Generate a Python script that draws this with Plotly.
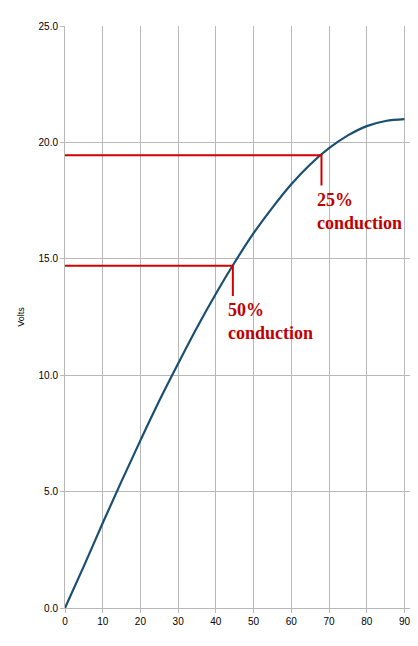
import plotly.graph_objects as go

# phase angle (degrees) and voltage
angle = [0, 5, 10, 15, 20, 25, 30, 35, 40, 45, 50, 55, 60, 65, 70, 75, 80, 85, 90]
volts = [0.0, 1.8, 3.65, 5.45, 7.2, 8.9, 10.5, 12.05, 13.5, 14.85, 16.1, 17.2,
         18.2, 19.05, 19.75, 20.3, 20.7, 20.92, 21.0]

# conduction markers: (angle, volts, label)
marks = [(68, 19.45, '<b>25%<br>conduction</b>'), (44.5, 14.7, '<b>50%<br>conduction</b>')]

fig = go.Figure()
fig.add_trace(go.Scatter(x=angle, y=volts, mode='lines', line_shape='spline',
                         line=dict(color='#1b4f72', width=2.2), showlegend=False))

for x, y, label in marks:
    fig.add_trace(go.Scatter(x=[0, x, x], y=[y, y, y - 1.3], mode='lines',
                             line=dict(color='#d00000', width=2), showlegend=False))
    fig.add_annotation(x=x - 1.8, y=y - 1.4, text=label, showarrow=False,
                       xanchor='left', yanchor='top', align='left',
                       font=dict(family='Liberation Serif', size=18, color='#c00000'))

fig.update_layout(
    width=418, height=646, plot_bgcolor='white', paper_bgcolor='white',
    margin=dict(l=49, r=14, t=18, b=46),
    font=dict(family='Liberation Sans', size=10, color='black'),
    xaxis=dict(range=[0, 92], tickvals=list(range(0, 91, 10)), showgrid=True,
               gridcolor='#b8b8b8', zeroline=False, showline=True, linecolor='#b8b8b8',
               ticks='outside', ticklen=4, tickcolor='#b8b8b8'),
    yaxis=dict(range=[0, 25], dtick=5, tickformat='.1f', showgrid=True,
               gridcolor='#b8b8b8', zeroline=False, showline=True, linecolor='#b8b8b8',
               ticks='outside', ticklen=4, tickcolor='#b8b8b8',
               title=dict(text='Volts', font=dict(size=9), standoff=12)),
)
fig.write_html('out.html')
